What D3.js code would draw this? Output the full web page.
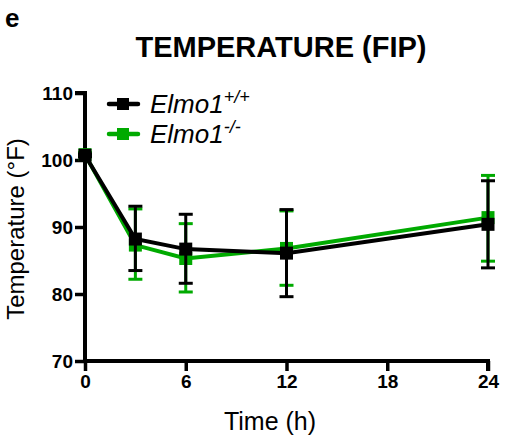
<!DOCTYPE html>
<html><head><meta charset="utf-8">
<script src="https://cdn.jsdelivr.net/npm/d3@7"></script>
<style>body{margin:0;background:#fff;}svg{display:block;font-family:Arial,"Liberation Sans",sans-serif;}</style>
</head><body><svg id="c" width="510" height="439"></svg>
<script>
const times = [0, 3, 6, 12, 24];
const wtMean = [100.7, 88.2, 86.7, 86.1, 90.4];
const wtUpper = [100.9, 93.1, 91.9, 92.6, 96.9];
const wtLower = [100.5, 83.5, 81.6, 79.6, 83.9];
const koMean = [100.8, 87.3, 85.3, 86.8, 91.4];
const koUpper = [101.1, 92.7, 90.5, 92.4, 97.7];
const koLower = [100.5, 82.2, 80.3, 81.3, 84.9];
const xTicks = [0, 6, 12, 18, 24];
const yTicks = [70, 80, 90, 100, 110];
const seriesNames = ["Elmo1", "Elmo1"];
const seriesSups = ["+/+", "-/-"];

const svg = d3.select("#c");
const x = d3.scaleLinear().domain([0, 24]).range([85, 488]);
const y = d3.scaleLinear().domain([70, 110]).range([361, 93]);

const green = "#00aa00", black = "#000";
const series = [
  {mean: koMean, up: koUpper, lo: koLower, color: green},
  {mean: wtMean, up: wtUpper, lo: wtLower, color: black}
];

// text
svg.append("text").attr("x", 5).attr("y", 27).attr("font-size", 26).attr("font-weight", "bold").text("e");
svg.append("text").attr("x", 281).attr("y", 57).attr("text-anchor", "middle").attr("font-size", 29).attr("font-weight", "bold").text("TEMPERATURE (FIP)");
svg.append("text").attr("transform", "translate(24,229) rotate(-90)").attr("text-anchor", "middle").attr("font-size", 24).text("Temperature (°F)");
svg.append("text").attr("x", 270).attr("y", 430).attr("text-anchor", "middle").attr("font-size", 25).text("Time (h)");

// axes
const yAxis = svg.append("g").attr("transform", "translate(85,0)")
  .call(d3.axisLeft(y).tickValues(yTicks).tickSize(10).tickPadding(2).tickFormat(d3.format("d")));
const xAxis = svg.append("g").attr("transform", "translate(0,361)")
  .call(d3.axisBottom(x).tickValues(xTicks).tickSize(10).tickPadding(4).tickFormat(d3.format("d")));
[yAxis, xAxis].forEach(a => {
  a.select(".domain").attr("stroke-width", 4).attr("stroke", "#000");
  a.selectAll(".tick line").attr("stroke-width", 3.5).attr("stroke", "#000");
  a.selectAll("text").attr("font-size", 19).attr("font-weight", "bold").attr("fill", "#000").attr("font-family", "Arial,'Liberation Sans',sans-serif");
});
yAxis.select(".domain").attr("d", `M-10,${y(110)}H0V${y(70)}`);
xAxis.select(".domain").attr("d", `M${x(0)},0H${x(24)}V10`);

// series
const line = d3.line().x((d, i) => x(times[i])).y(d => y(d));
series.forEach(s => {
  const g = svg.append("g");
  times.forEach((t, i) => {
    g.append("line").attr("x1", x(t)).attr("x2", x(t)).attr("y1", y(s.up[i])).attr("y2", y(s.lo[i]))
      .attr("stroke", s.color).attr("stroke-width", 3);
    [s.up[i], s.lo[i]].forEach(v => {
      g.append("line").attr("x1", x(t) - 7).attr("x2", x(t) + 7).attr("y1", y(v)).attr("y2", y(v))
        .attr("stroke", s.color).attr("stroke-width", 3);
    });
  });
  g.append("path").datum(s.mean).attr("d", line).attr("fill", "none").attr("stroke", s.color).attr("stroke-width", 4);
  g.selectAll("rect").data(s.mean).enter().append("rect")
    .attr("x", (d, i) => x(times[i]) - 6.5).attr("y", d => y(d) - 6.5).attr("width", 13).attr("height", 13).attr("fill", s.color);
});

// legend
const legColors = [black, green];
legColors.forEach((c, i) => {
  const ly = 104 + i * 30;
  const g = svg.append("g");
  g.append("line").attr("x1", 109).attr("x2", 138).attr("y1", ly).attr("y2", ly).attr("stroke", c).attr("stroke-width", 4.5).attr("stroke-linecap", "round");
  g.append("rect").attr("x", 117).attr("y", ly - 6).attr("width", 12).attr("height", 12).attr("fill", c);
  const t = g.append("text").attr("x", 150).attr("y", ly + 9).attr("font-size", 26).attr("font-style", "italic");
  t.append("tspan").text(seriesNames[i]);
  t.append("tspan").attr("font-size", 18).attr("dy", -10).text(seriesSups[i]);
});
</script></body></html>
